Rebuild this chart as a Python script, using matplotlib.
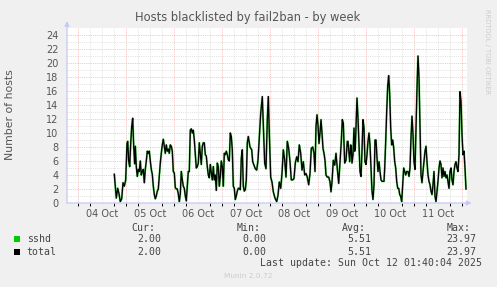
import matplotlib
matplotlib.use("Agg")
import matplotlib.pyplot as plt

# ---------------- data ----------------
# hours since 04 Oct 00:00
hours = [
    18.0, 19.0, 19.7, 20.3, 21.0, 21.7, 22.35, 23.0, 23.7, 24.35, 24.7, 25.2, 25.7, 26.2, 26.7, 27.2,
    27.7, 28.2, 28.5, 29.0, 29.5, 30.0, 30.5, 31.0, 31.5, 32.0, 32.5, 33.0, 33.5, 34.0, 34.5, 35.0,
    35.5, 36.0, 36.5, 37.0, 37.5, 38.0, 38.5, 39.0, 39.5, 40.0, 40.5, 41.0, 41.5, 42.0, 42.5, 43.0,
    43.5, 44.0, 44.5, 45.0, 45.5, 46.0, 46.5, 47.0, 47.5, 48.0, 48.5, 49.0, 49.5, 50.0, 50.5, 51.0,
    51.5, 52.0, 52.5, 53.0, 53.5, 54.0, 54.5, 55.0, 55.5, 56.0, 56.5, 57.0, 57.5, 58.0, 58.5, 59.0,
    59.5, 60.0, 60.5, 61.0, 61.5, 62.0, 62.5, 63.0, 63.5, 64.0, 64.5, 65.0, 65.5, 66.0, 66.5, 67.0,
    67.5, 68.0, 68.5, 69.0, 69.5, 70.0, 70.5, 71.0, 71.5, 72.0, 72.5, 73.0, 73.5, 74.0, 74.5, 75.0,
    75.5, 76.0, 76.5, 77.0, 77.5, 78.0, 78.5, 79.0, 79.5, 80.0, 80.5, 81.0, 81.5, 82.0, 82.5, 83.0,
    83.5, 84.0, 84.5, 85.0, 85.85, 86.7, 87.2, 87.85, 88.5, 89.2, 89.85, 90.5, 91.2, 92.0, 93.2, 93.85,
    94.5, 95.0, 95.5, 96.2, 96.85, 97.5, 98.35, 99.2, 99.85, 100.5, 101.2, 101.85, 102.5, 103.2, 103.85, 104.5,
    105.2, 105.85, 106.5, 107.2, 107.85, 108.5, 109.2, 109.85, 110.5, 111.2, 111.85, 112.5, 113.2, 113.85, 114.5, 115.2,
    115.85, 116.5, 117.2, 117.85, 118.35, 118.85, 119.35, 119.85, 120.35, 120.85, 121.35, 121.85, 122.35, 122.85, 123.35, 123.85,
    124.5, 125.2, 125.85, 126.35, 126.85, 127.5, 128.2, 128.85, 129.5, 130.2, 130.85, 131.5, 132.0, 132.5, 133.2, 133.85,
    134.5, 134.85, 135.7, 136.2, 136.5, 136.85, 137.35, 137.85, 138.2, 138.5, 139.0, 139.35, 139.85, 140.35, 140.85, 141.35,
    141.85, 142.35, 142.85, 143.35, 143.85, 144.35, 144.85, 145.35, 145.85, 146.35, 146.85, 147.35, 147.85, 148.35, 148.85, 149.35,
    149.85, 150.35, 150.85, 151.35, 151.85, 152.35, 152.85, 153.2, 153.7, 154.2, 154.7, 155.2, 155.7, 156.2, 156.7, 157.2,
    157.7, 158.2, 158.7, 159.2, 159.7, 160.2, 160.7, 161.2, 161.7, 162.2, 162.7, 163.2, 163.7, 164.2, 164.85, 165.35,
    165.85, 166.35, 166.85, 167.35, 167.85, 168.35, 168.85, 169.35, 169.85, 170.35, 170.85, 171.35, 171.85, 172.35, 172.85, 173.35,
    173.85, 174.35, 174.85, 175.35, 175.85, 176.35, 176.85, 177.35, 177.85, 178.35, 178.85, 179.35, 179.85, 180.35, 180.85, 181.35,
    181.85, 182.35, 182.85, 183.35, 183.85, 184.35, 184.85, 185.35, 185.85, 186.35, 186.85, 187.35, 187.85, 188.35, 188.85, 189.35,
    189.85, 190.35, 190.85, 191.35, 191.85, 192.35, 192.85, 193.35, 193.85,
]
sshd = [
    4.1, 0.7, 2.1, 1.4, 0.2, 0.6, 2.9, 2.4, 3.3, 8.5, 8.8, 6.0, 5.2, 8.5, 10.9, 12.1,
    8.1, 5.6, 8.1, 5.2, 3.8, 4.8, 4.5, 6.0, 4.0, 4.5, 4.8, 2.9, 4.8, 6.0, 7.4, 7.1,
    7.4, 6.0, 4.8, 4.1, 2.4, 1.2, 0.6, 1.0, 1.7, 2.0, 3.8, 5.7, 7.1, 8.3, 9.1, 8.1,
    7.1, 8.3, 7.4, 7.7, 7.1, 8.3, 8.1, 7.4, 4.5, 4.3, 2.2, 2.0, 2.0, 1.3, 0.2, 1.3,
    4.5, 3.3, 2.4, 2.1, 1.0, 0.3, 2.4, 4.5, 4.5, 10.4, 10.6, 10.0, 10.4, 9.0, 7.1, 5.0,
    5.2, 5.7, 8.6, 7.1, 5.5, 8.1, 8.6, 8.6, 6.9, 6.7, 5.2, 4.0, 3.6, 5.5, 4.3, 3.3,
    5.2, 3.3, 4.0, 1.8, 5.7, 5.2, 2.4, 3.8, 6.0, 5.2, 2.4, 7.1, 6.9, 7.4, 6.9, 6.2,
    6.0, 10.0, 9.5, 7.6, 2.4, 2.1, 0.5, 1.0, 1.7, 2.1, 2.1, 1.9, 6.4, 7.6, 2.4, 1.7,
    1.9, 3.3, 8.6, 9.5, 8.0, 7.6, 5.9, 5.4, 4.9, 4.7, 6.1, 9.2, 12.8, 15.2, 5.7, 4.9,
    11.9, 15.2, 10.0, 3.7, 3.0, 1.6, 0.7, 0.2, 1.1, 3.0, 2.1, 4.2, 7.6, 6.1, 3.7, 8.8,
    7.8, 5.9, 3.3, 3.3, 3.5, 5.7, 6.6, 5.9, 8.3, 7.1, 4.7, 5.9, 4.0, 4.2, 3.7, 2.6,
    4.2, 7.8, 8.0, 7.1, 4.5, 10.9, 12.6, 11.1, 8.5, 10.0, 11.9, 10.0, 7.8, 7.1, 6.1, 4.0,
    3.7, 3.7, 3.0, 1.6, 3.0, 6.1, 5.4, 7.1, 4.9, 2.8, 5.7, 8.8, 11.9, 11.4, 5.7, 6.1,
    8.8, 8.8, 5.9, 8.3, 7.9, 5.7, 6.9, 10.7, 7.4, 7.9, 12.1, 15.0, 12.1, 8.3, 4.5, 3.8,
    7.4, 11.9, 10.7, 5.9, 5.5, 6.9, 8.8, 10.0, 8.3, 5.0, 1.7, 0.5, 2.6, 9.0, 9.0, 6.4,
    4.5, 5.9, 4.5, 3.3, 3.1, 3.1, 3.1, 5.0, 8.8, 13.1, 16.7, 18.2, 15.5, 10.7, 8.3, 9.0,
    7.9, 5.9, 5.0, 3.1, 2.1, 2.1, 1.2, 0.95, 0.2, 2.6, 5.0, 4.5, 4.0, 4.5, 4.5, 3.8,
    5.0, 9.3, 12.4, 9.8, 5.9, 4.8, 10.7, 16.4, 21.0, 17.9, 10.7, 4.0, 2.9, 4.5, 5.9, 7.4,
    8.1, 5.9, 4.0, 3.1, 2.6, 1.7, 1.2, 2.6, 4.5, 0.95, 0.2, 1.7, 3.1, 5.0, 6.0, 5.5,
    3.6, 5.0, 3.8, 4.5, 3.6, 4.0, 3.1, 2.1, 4.5, 5.0, 3.3, 2.6, 4.5, 5.5, 5.9, 5.0,
    4.5, 6.9, 15.9, 14.5, 9.8, 6.9, 7.4, 5.0, 2.0,
]
total = list(sshd)

day_ticks = [0, 24, 48, 72, 96, 120, 144, 168, 192]
day_labels = ['04 Oct', '05 Oct', '06 Oct', '07 Oct', '08 Oct', '09 Oct', '10 Oct', '11 Oct']
y_ticks = [0, 2, 4, 6, 8, 10, 12, 14, 16, 18, 20, 22, 24]

legend_names = ['sshd', 'total']
legend_colors = ['#00CC00', '#000000']
legend_cur = ['2.00', '2.00']
legend_min = ['0.00', '0.00']
legend_avg = ['5.51', '5.51']
legend_max = ['23.97', '23.97']

title = 'Hosts blacklisted by fail2ban - by week'
ylabel = 'Number of hosts'
last_update = 'Last update: Sun Oct 12 01:40:04 2025'
footer = 'Munin 2.0.72'
side = 'RRDTOOL / TOBI OETIKER'

# ---------------- figure ----------------
W, H = 497, 287
BG = '#F0F0F0'
fig = plt.figure(figsize=(W / 100, H / 100), dpi=100, facecolor=BG)

def fx(px):
    return px / W

def fy(py):
    return 1 - py / H

L, R, T, B = 67, 467, 28, 203
ax = fig.add_axes([fx(L), fy(B), (R - L) / W, (B - T) / H])
ax.set_facecolor('white')
xmin, xmax = -5.65, 194.35
ax.set_xlim(xmin, xmax)
ax.set_ylim(0, 25)
for s in ax.spines.values():
    s.set_visible(False)

MAJ = '#F2B4B4'
MIN = '#DCDCDC'
dot = (0, (1, 1.2))
# grid
for v in range(1, 25):
    if v % 2:
        ax.axhline(v, color=MIN, lw=0.6, ls=dot, zorder=1)
for v in y_ticks[1:]:
    ax.axhline(v, color=MAJ, lw=0.6, ls=dot, zorder=1.1)
h = -6
while h < xmax:
    if h > xmin and h % 24 != 0:
        ax.axvline(h, color=MIN, lw=0.6, ls=dot, zorder=1)
    h += 6
for d in day_ticks:
    ax.axvline(d, color=MAJ, lw=0.6, ls=dot, zorder=1.1)

# series
ax.plot(hours, sshd, color=legend_colors[0], lw=1.5, alpha=0.55, zorder=3, solid_joinstyle='round')
ax.plot(hours, total, color=legend_colors[1], lw=0.95, zorder=4, solid_joinstyle='round')

# axes lines with arrows
AX = '#C8C8F5'
ax.annotate('', xy=(xmax + 2.3, 0), xytext=(xmin, 0), xycoords='data',
            arrowprops=dict(arrowstyle='-|>', color=AX, lw=0.9, mutation_scale=7,
                            shrinkA=0, shrinkB=0), annotation_clip=False, zorder=5)
ax.annotate('', xy=(xmin, 26.0), xytext=(xmin, 0), xycoords='data',
            arrowprops=dict(arrowstyle='-|>', color=AX, lw=0.9, mutation_scale=7,
                            shrinkA=0, shrinkB=0), annotation_clip=False, zorder=5)

# ticks
TXT = '#555555'
ax.set_yticks(y_ticks)
ax.set_yticklabels([str(v) for v in y_ticks], fontsize=7, color=TXT)
ax.tick_params(axis='y', length=0, pad=6)
ax.set_xticks([d + 12 for d in day_ticks[:-1]])
ax.set_xticklabels(day_labels, fontsize=7, color=TXT)
ax.tick_params(axis='x', length=0, pad=4)
six = [v for v in range(-6, 200, 6) if xmin < v < xmax]
ax.set_xticks(six, minor=True)
ax.tick_params(axis='x', which='minor', length=2.5, width=0.7, direction='out')
for t, v in zip(ax.xaxis.get_minor_ticks(), six):
    t.tick1line.set_color('#F08080' if v % 24 == 0 else '#BBBBBB')

# texts
fig.text(fx(248), fy(18), title, ha='center', va='center', fontsize=8.3, color=TXT)
fig.text(fx(10), fy(115), ylabel, ha='center', va='center', rotation=90, fontsize=7.8, color=TXT)
fig.text(fx(487), fy(52), side, ha='center', va='center', rotation=270, fontsize=4.8, color='#CCCCCC')

MONO = 'DejaVu Sans Mono'
fs = 7.1
LTXT = '#444444'
row_head = 227.7
rows = [239.3, 251.7]
fig.text(fx(131.7), fy(row_head), 'Cur:', ha='left', va='center', family=MONO, fontsize=fs, color=LTXT)
fig.text(fx(236.7), fy(row_head), 'Min:', ha='left', va='center', family=MONO, fontsize=fs, color=LTXT)
fig.text(fx(342.0), fy(row_head), 'Avg:', ha='left', va='center', family=MONO, fontsize=fs, color=LTXT)
fig.text(fx(446.7), fy(row_head), 'Max:', ha='left', va='center', family=MONO, fontsize=fs, color=LTXT)
for i, name in enumerate(legend_names):
    y = rows[i]
    fig.patches.append(plt.Rectangle((fx(14), fy(y + 3)), 6 / W, 6 / H, transform=fig.transFigure,
                                     facecolor=legend_colors[i], edgecolor='none'))
    fig.text(fx(26.7), fy(y), name, ha='left', va='center', family=MONO, fontsize=fs, color=LTXT)
    fig.text(fx(161.0), fy(y), legend_cur[i], ha='right', va='center', family=MONO, fontsize=fs, color=LTXT)
    fig.text(fx(266.0), fy(y), legend_min[i], ha='right', va='center', family=MONO, fontsize=fs, color=LTXT)
    fig.text(fx(371.0), fy(y), legend_avg[i], ha='right', va='center', family=MONO, fontsize=fs, color=LTXT)
    fig.text(fx(476.7), fy(y), legend_max[i], ha='right', va='center', family=MONO, fontsize=fs, color=LTXT)
fig.text(fx(482.3), fy(263.3), last_update, ha='right', va='center', family=MONO, fontsize=fs, color=LTXT)
fig.text(fx(248), fy(276), footer, ha='center', va='center', fontsize=5.3, color='#CCCCCC')

fig.savefig('out.png', dpi=100, facecolor=BG)
